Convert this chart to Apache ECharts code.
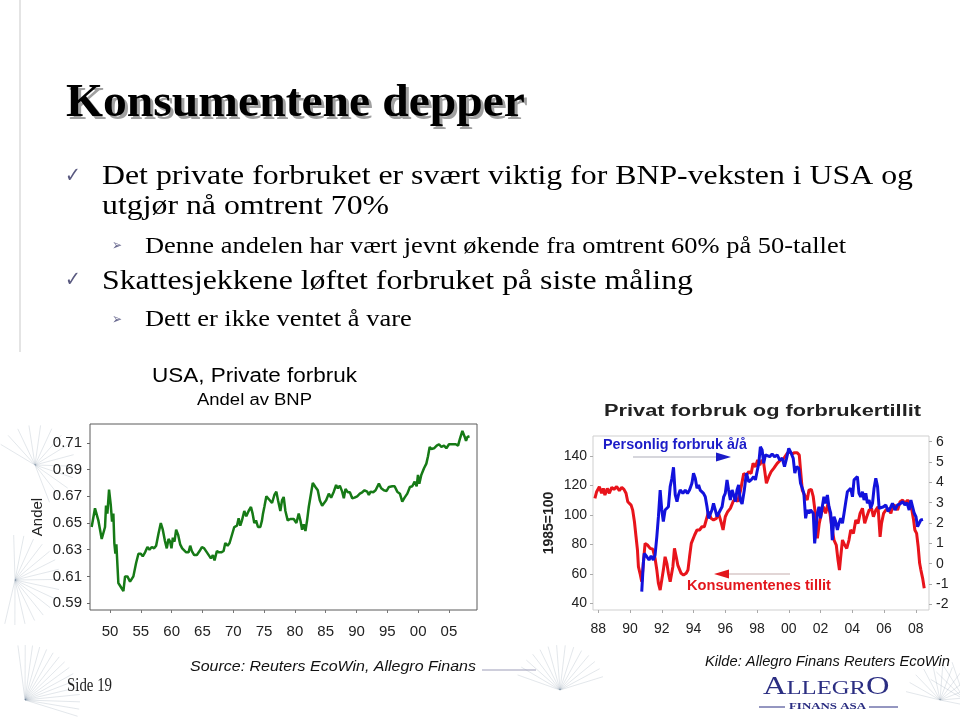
<!DOCTYPE html>
<html><head><meta charset="utf-8">
<script src="https://cdn.jsdelivr.net/npm/echarts@6/dist/echarts.min.js"></script>
<style>html,body{margin:0;padding:0;background:#fff}#c{width:960px;height:720px}</style>
</head><body><div id="c"></div>
<script>
// ---------- DATA ----------
const shareYears = [1947.02,1947.56,1948.10,1948.65,1949.19,1949.35,1949.57,1949.84,1950.11,1950.33,1950.54,1950.70,1950.87,1951.03,1951.35,1951.63,1951.90,1952.17,1952.44,1952.82,1953.25,1953.52,1953.79,1954.23,1954.61,1954.99,1955.31,1955.69,1956.07,1956.40,1956.78,1957.15,1957.48,1957.86,1958.24,1958.56,1958.89,1959.21,1959.49,1959.76,1959.97,1960.19,1960.46,1960.73,1961.06,1961.38,1961.71,1962.03,1962.36,1962.74,1963.01,1963.28,1963.66,1964.09,1964.53,1964.91,1965.28,1965.72,1965.99,1966.37,1966.69,1966.96,1967.34,1967.67,1968.05,1968.43,1968.70,1969.08,1969.40,1969.78,1970.16,1970.60,1970.87,1971.14,1971.41,1971.79,1972.11,1972.49,1972.87,1973.14,1973.41,1973.69,1974.01,1974.39,1974.66,1974.82,1975.04,1975.37,1975.75,1976.29,1976.67,1976.99,1977.26,1977.64,1977.91,1978.18,1978.46,1978.83,1979.27,1979.81,1980.24,1980.62,1980.89,1981.17,1981.44,1981.71,1981.98,1982.25,1982.52,1982.90,1983.33,1983.71,1984.04,1984.42,1984.69,1985.07,1985.50,1985.88,1986.31,1986.69,1986.97,1987.29,1987.67,1987.94,1988.21,1988.59,1988.92,1989.30,1989.67,1990.11,1990.54,1990.92,1991.30,1991.73,1992.00,1992.28,1992.71,1993.09,1993.63,1994.01,1994.44,1994.88,1995.26,1995.80,1996.18,1996.61,1997.04,1997.42,1997.80,1998.24,1998.67,1999.05,1999.43,1999.76,1999.97,2000.19,2000.51,2000.95,2001.33,2001.60,2001.87,2002.14,2002.57,2003.01,2003.39,2003.77,2004.20,2004.58,2005.01,2005.55,2006.10,2006.48,2006.80,2007.18,2007.56,2007.77,2008.00,2008.33];
const shareValues = [0.647,0.661,0.652,0.638,0.647,0.663,0.657,0.675,0.664,0.651,0.657,0.635,0.627,0.634,0.605,0.603,0.6035,0.599,0.610,0.610,0.606,0.606,0.610,0.620,0.627,0.627,0.625,0.628,0.632,0.630,0.632,0.631,0.633,0.642,0.650,0.645,0.637,0.631,0.638,0.636,0.631,0.639,0.636,0.645,0.641,0.634,0.631,0.632,0.628,0.628,0.633,0.629,0.626,0.626,0.629,0.632,0.631,0.628,0.627,0.6235,0.626,0.622,0.629,0.628,0.628,0.629,0.635,0.633,0.635,0.641,0.647,0.648,0.6535,0.648,0.652,0.659,0.655,0.659,0.662,0.657,0.650,0.652,0.647,0.647,0.652,0.657,0.662,0.670,0.668,0.665,0.671,0.6735,0.667,0.659,0.667,0.6695,0.659,0.652,0.653,0.653,0.650,0.657,0.652,0.645,0.649,0.644,0.652,0.662,0.662,0.680,0.677,0.6745,0.667,0.663,0.662,0.667,0.672,0.669,0.6735,0.6785,0.676,0.678,0.6735,0.6685,0.6755,0.673,0.673,0.6685,0.669,0.670,0.672,0.673,0.6745,0.6735,0.671,0.6735,0.673,0.6745,0.6795,0.676,0.6745,0.674,0.677,0.6775,0.6775,0.6735,0.672,0.666,0.669,0.672,0.677,0.6775,0.681,0.6775,0.686,0.6795,0.686,0.691,0.6945,0.700,0.707,0.7055,0.706,0.708,0.709,0.707,0.708,0.706,0.709,0.709,0.709,0.708,0.7135,0.719,0.7145,0.7115,0.7145,0.715];
const shareTicks = [0.59,0.61,0.63,0.65,0.67,0.69,0.71];
const shareYearTicks = [1950,1955,1960,1965,1970,1975,1980,1985,1990,1995,2000,2005];

const confYears = [1987.79,1987.9,1988.07,1988.21,1988.32,1988.42,1988.57,1988.7,1988.85,1988.99,1989.16,1989.33,1989.48,1989.62,1989.75,1989.86,1989.96,1990.07,1990.17,1990.28,1990.38,1990.47,1990.53,1990.63,1990.74,1990.84,1990.95,1991.1,1991.27,1991.44,1991.58,1991.69,1991.79,1991.9,1992.0,1992.1,1992.21,1992.32,1992.42,1992.53,1992.7,1992.8,1992.91,1993.01,1993.12,1993.22,1993.37,1993.54,1993.65,1993.75,1993.86,1993.96,1994.07,1994.22,1994.38,1994.53,1994.68,1994.8,1994.95,1995.1,1995.26,1995.44,1995.58,1995.73,1995.86,1996.0,1996.15,1996.32,1996.49,1996.64,1996.78,1996.95,1997.16,1997.33,1997.48,1997.63,1997.75,1997.9,1998.04,1998.17,1998.32,1998.42,1998.59,1998.74,1998.89,1999.05,1999.27,1999.48,1999.69,1999.9,2000.07,2000.22,2000.36,2000.53,2000.66,2000.74,2000.85,2000.99,2001.16,2001.27,2001.42,2001.54,2001.67,2001.8,2001.92,2002.05,2002.18,2002.32,2002.47,2002.59,2002.74,2002.85,2002.99,2003.1,2003.19,2003.27,2003.38,2003.52,2003.65,2003.79,2003.9,2004.07,2004.22,2004.36,2004.49,2004.64,2004.78,2004.91,2005.06,2005.21,2005.33,2005.48,2005.62,2005.75,2005.84,2005.97,2006.11,2006.26,2006.43,2006.53,2006.68,2006.85,2007.01,2007.17,2007.31,2007.48,2007.63,2007.75,2007.86,2007.94,2008.05,2008.15,2008.24,2008.32,2008.43,2008.53];
const confValues = [111.3,115.8,119.2,114.7,118,113.5,118,114.7,118.7,117.4,119.2,116.5,118.7,117.4,114.7,109,110.1,106.7,103.3,95.4,85.2,76.2,64.9,60.4,54.7,67.2,80.7,79.6,77.3,76.7,70.5,62.6,53.5,49,47.9,62.6,71.6,67.2,60.4,54.7,64.9,77.3,71.6,66,67.2,60.4,59.2,60.4,62.6,71.6,80.7,81.8,86.4,89.8,89.8,92,92,96.6,102.2,97.7,96.6,97.7,101.1,95.4,89.8,98.8,102.2,104.5,109,111.3,109,116,128.2,127.1,129.4,128.2,135,132.7,137.3,133.9,137.3,135,121.5,126,129.4,131.6,135,137.3,138.4,141.8,142.9,141.4,142.3,142.3,140.7,130.5,116.9,113.5,110.1,116.9,117.4,112.4,101.1,84.1,94.3,101.1,105.6,101.1,107.9,101.1,89.8,83,79.6,69.4,62.6,71.6,83,79.6,77.3,83,89.8,87.5,96.6,94.3,101.1,104.5,94.3,98.8,103.3,104.5,98.8,103.3,105.6,85.2,94.3,101.1,103.3,104.5,101.1,105.6,106.7,103.3,109,110.1,107.9,110.1,107.9,103.3,96.6,89.8,87.5,78.4,67.2,62.6,57,50.2];

const pceYears = [1990.74,1990.84,1990.9,1991.06,1991.2,1991.33,1991.47,1991.58,1991.69,1991.79,1991.9,1992.0,1992.1,1992.21,1992.32,1992.42,1992.53,1992.64,1992.74,1992.85,1992.96,1993.05,1993.16,1993.33,1993.48,1993.62,1993.75,1993.9,1994.0,1994.11,1994.22,1994.32,1994.42,1994.53,1994.63,1994.74,1994.85,1994.95,1995.06,1995.16,1995.26,1995.37,1995.48,1995.58,1995.69,1995.8,1995.9,1996.0,1996.11,1996.21,1996.32,1996.43,1996.53,1996.64,1996.74,1996.84,1996.95,1997.06,1997.2,1997.33,1997.48,1997.63,1997.79,1997.9,1998.0,1998.11,1998.21,1998.32,1998.42,1998.53,1998.64,1998.8,1998.95,1999.1,1999.27,1999.43,1999.59,1999.73,1999.86,2000.0,2000.15,2000.28,2000.38,2000.49,2000.63,2000.74,2000.85,2000.95,2001.06,2001.16,2001.27,2001.37,2001.54,2001.63,2001.71,2001.8,2001.9,2002.0,2002.11,2002.21,2002.32,2002.43,2002.53,2002.64,2002.74,2002.85,2002.95,2003.06,2003.16,2003.27,2003.38,2003.48,2003.59,2003.69,2003.79,2003.9,2004.01,2004.11,2004.22,2004.32,2004.42,2004.53,2004.64,2004.74,2004.85,2004.95,2005.06,2005.16,2005.27,2005.37,2005.48,2005.59,2005.69,2005.8,2005.97,2006.11,2006.26,2006.43,2006.53,2006.68,2006.85,2007.01,2007.17,2007.31,2007.44,2007.58,2007.69,2007.8,2007.9,2008.01,2008.11,2008.21,2008.32,2008.45];
const pceValues = [-1.38,0.02,0.51,0.34,0.18,0.38,0.18,0.43,1.33,2.31,3.62,2.64,2.07,2.64,2.72,2.8,3.79,4.2,4.74,3.38,3.05,3.38,3.62,3.46,3.62,3.46,3.62,3.95,4.45,4.2,3.71,3.87,3.62,3.71,3.46,3.29,2.8,2.23,2.15,2.64,2.97,2.64,2.31,2.23,2.64,2.8,3.29,3.46,4.12,3.62,3.13,3.62,3.38,3.05,3.62,3.87,3.1,2.94,3.62,4.45,4.03,4.12,4.28,4.12,4.52,4.94,5.75,5.59,4.94,5.35,5.4,5.26,5.4,5.26,5.35,5.1,5.18,4.77,5.18,5.67,5.43,5.18,4.45,4.77,4.69,3.95,3.71,3.46,2.23,2.64,2.48,2.64,2.48,1.0,1.66,2.48,2.8,2.23,2.8,3.29,2.97,3.38,2.8,2.48,1.16,2.31,2.07,1.66,1.99,2.23,1.99,2.48,3.05,3.54,3.46,3.71,3.29,4.12,4.2,4.28,3.46,3.29,3.54,3.13,3.46,2.97,3.13,2.72,2.97,3.71,4.2,3.79,2.72,2.64,2.8,2.89,2.56,2.8,2.97,2.64,2.89,2.94,3.05,2.89,3.0,2.64,3.13,3.05,2.48,2.31,1.82,1.74,2.15,2.18];
const leftTicks = [40,60,80,100,120,140];
const rightTicks = [-2,-1,0,1,2,3,4,5,6];
const rightYearTicks = [1988,1990,1992,1994,1996,1998,2000,2002,2004,2006,2008];

// ---------- helpers ----------
const SERIF = '"Liberation Serif","Times New Roman",serif';
const SANS = '"Liberation Sans",Arial,sans-serif';
const mctx = document.createElement('canvas').getContext('2d');
function natW(text, font){ mctx.font = font; return mctx.measureText(text).width; }
function txt(text, font, left, yMid, sx, fill, extra){
  return Object.assign({type:'text', x:left, y:yMid, scaleX:sx, z:20,
    style:{x:0, y:0, text:text, font:font, fill:fill, align:'left', verticalAlign:'middle'}}, extra||{});
}
function fit(text, font, left, yMid, width, fill, extra){
  return txt(text, font, left, yMid, width / natW(text, font), fill, extra);
}
const yy = v => String(Math.round(v) % 100).padStart(2,'0');

const fTitle = 'bold 47px ' + SERIF;
const fL1 = '28px ' + SERIF;
const fL2 = '23px ' + SERIF;
const s1 = 811 / natW('Det private forbruket er svært viktig for BNP-veksten i USA og', fL1);
const s2 = 701 / natW('Denne andelen har vært jevnt økende fra omtrent 60% på 50-tallet', fL2);

const g = [];
// left decorative vertical rule
g.push({type:'line', shape:{x1:20,y1:0,x2:20,y2:352}, style:{stroke:'#c9c9c9', lineWidth:1}, z:1});
// faint dandelion decorations
function seed(cx, cy, r, n, a0, a1){
  for (let i=0;i<n;i++){
    const a = a0 + (a1-a0)*i/(n-1);
    g.push({type:'line', shape:{x1:cx,y1:cy,x2:cx+r*Math.cos(a),y2:cy+r*Math.sin(a)}, style:{stroke:'rgba(90,115,140,0.22)', lineWidth:0.8}, z:0});
  }
}
seed(35, 465, 40, 14, -2.6, 1.2);
seed(15, 580, 45, 16, -1.6, 1.8);
seed(25, 700, 55, 16, -1.7, 0.3);
seed(560, 690, 45, 14, -2.8, -0.3);
seed(965, 700, 40, 10, -2.6, -0.5);
seed(940, 700, 35, 12, -2.9, 0.2);

// title with shadow
g.push(fit('Konsumentene depper', fTitle, 69, 107, 459, '#a0a0a0', {z:15}));
g.push(fit('Konsumentene depper', fTitle, 66, 104, 459, '#000'));
// bullets
g.push(txt('\u2713', '21px "DejaVu Sans"', 65, 177, 0.9, '#5a5a80'));
g.push(txt('\u2713', '21px "DejaVu Sans"', 65, 281, 0.9, '#5a5a80'));
g.push(txt('\u27A2', '15px "DejaVu Sans"', 112, 246, 0.8, '#6a6a90'));
g.push(txt('\u27A2', '15px "DejaVu Sans"', 112, 320, 0.8, '#6a6a90'));
g.push(txt('Det private forbruket er svært viktig for BNP-veksten i USA og', fL1, 102, 177, s1, '#000'));
g.push(txt('utgjør nå omtrent 70%', fL1, 102, 207, s1, '#000'));
g.push(txt('Denne andelen har vært jevnt økende fra omtrent 60% på 50-tallet', fL2, 145, 247, s2, '#000'));
g.push(txt('Skattesjekkene løftet forbruket på siste måling', fL1, 102, 282, s1, '#000'));
g.push(txt('Dett er ikke ventet å vare', fL2, 145, 320, s2, '#000'));

// chart titles
g.push(fit('USA, Private forbruk', '20px ' + SANS, 152, 376, 205, '#000'));
g.push(fit('Andel av BNP', '16px ' + SANS, 197, 401, 115, '#000'));
g.push(fit('Privat forbruk og forbrukertillit', 'bold 16px ' + SANS, 604, 412, 317, '#222'));

// annotations right chart
g.push(fit('Personlig forbruk å/å', 'bold 14px ' + SANS, 603, 445, 144, '#1c1cc8'));
g.push({type:'line', shape:{x1:633,y1:457,x2:718,y2:457}, style:{stroke:'#c8c8d0', lineWidth:1.5}, z:20});
g.push({type:'polygon', shape:{points:[[716,452.5],[731,457],[716,461.5]]}, style:{fill:'#1c1cc8'}, z:21});
g.push(fit('Konsumentenes tillit', 'bold 14px ' + SANS, 687, 586, 144, '#e3161c'));
g.push({type:'line', shape:{x1:727,y1:574,x2:790,y2:574}, style:{stroke:'#d8c8c8', lineWidth:1.5}, z:20});
g.push({type:'polygon', shape:{points:[[729,569.5],[714,574],[729,578.5]]}, style:{fill:'#e3161c'}, z:21});

// footer
g.push(fit('Side 19', '18px ' + SERIF, 67, 686, 45, '#222'));
g.push(fit('Source: Reuters EcoWin, Allegro Finans', 'italic 15px ' + SANS, 190, 667, 286, '#111'));
g.push({type:'line', shape:{x1:482,y1:670,x2:536,y2:670}, style:{stroke:'#9d9db8', lineWidth:1}, z:20});
g.push(fit('Kilde: Allegro Finans Reuters EcoWin', 'italic 14px ' + SANS, 705, 662, 245, '#111'));
g.push({type:'text', x:763, y:687, scaleX:1.3, z:20,
  style:{x:0, y:0, text:'{a|A}{b|LLEGR}{a|O}', align:'left', verticalAlign:'middle',
    rich:{a:{fontFamily:SERIF, fontSize:25, fill:'#2b2e82', color:'#2b2e82'},
          b:{fontFamily:SERIF, fontSize:19, fill:'#2b2e82', color:'#2b2e82', verticalAlign:'bottom', padding:[0,0,1,0]}}}});
g.push(fit('FINANS ASA', 'bold 8px ' + SERIF, 789, 707, 77, '#2b2e82'));
g.push({type:'line', shape:{x1:759,y1:707,x2:785,y2:707}, style:{stroke:'#2b2e82', lineWidth:1}, z:20});
g.push({type:'line', shape:{x1:869,y1:707,x2:898,y2:707}, style:{stroke:'#2b2e82', lineWidth:1}, z:20});

const chart = echarts.init(document.getElementById('c'), null, {renderer:'canvas'});
chart.setOption({
  animation:false,
  backgroundColor:'#ffffff',
  textStyle:{fontFamily:SANS},
  grid:[
    {left:90, top:424, width:387, height:186, show:true, borderColor:'#5a5a5a', borderWidth:1, backgroundColor:'transparent'},
    {left:593, top:436, width:336, height:174, show:true, borderColor:'#cfcfcf', borderWidth:1, backgroundColor:'transparent'}
  ],
  xAxis:[
    {type:'value', gridIndex:0, min:1946.75, max:2009.55, splitLine:{show:false},
     axisLine:{show:false, onZero:false},
     axisTick:{show:true, customValues:shareYearTicks, length:3, lineStyle:{color:'#777'}},
     axisLabel:{customValues:shareYearTicks, formatter:yy, fontSize:15, color:'#222', margin:14, fontFamily:SANS}},
    {type:'value', gridIndex:1, min:1987.67, max:2008.83, splitLine:{show:false},
     axisLine:{show:false, onZero:false},
     axisTick:{show:true, customValues:rightYearTicks, length:3, lineStyle:{color:'#aaa'}},
     axisLabel:{customValues:rightYearTicks, formatter:yy, fontSize:14, color:'#222', margin:12, fontFamily:SANS}}
  ],
  yAxis:[
    {type:'value', gridIndex:0, min:0.5848, max:0.7242, splitLine:{show:false},
     axisLine:{show:false, onZero:false},
     axisTick:{show:true, customValues:shareTicks, length:3, lineStyle:{color:'#666'}},
     axisLabel:{customValues:shareTicks, formatter:v=>v.toFixed(2), fontSize:15, color:'#222', margin:8, fontFamily:SANS},
     name:'Andel', nameLocation:'middle', nameRotate:90, nameGap:45,
     nameTextStyle:{fontSize:15, color:'#222', fontFamily:SANS}},
    {type:'value', gridIndex:1, position:'left', min:35.5, max:153.6, splitLine:{show:false},
     axisLine:{show:false, onZero:false},
     axisTick:{show:true, customValues:leftTicks, length:3, lineStyle:{color:'#aaa'}},
     axisLabel:{customValues:leftTicks, fontSize:14, color:'#222', margin:6, fontFamily:SANS},
     name:'1985=100', nameLocation:'middle', nameRotate:90, nameGap:37,
     nameTextStyle:{fontSize:14, fontWeight:'bold', color:'#222', fontFamily:SANS}},
    {type:'value', gridIndex:1, position:'right', min:-2.28, max:6.28, splitLine:{show:false},
     axisLine:{show:false, onZero:false},
     axisTick:{show:true, customValues:rightTicks, length:3, lineStyle:{color:'#aaa'}},
     axisLabel:{customValues:rightTicks, fontSize:14, color:'#222', margin:7, fontFamily:SANS}}
  ],
  series:[
    {type:'line', xAxisIndex:0, yAxisIndex:0, showSymbol:false, silent:true,
     data:shareYears.map((x,i)=>[x, shareValues[i]]),
     lineStyle:{color:'#167a16', width:2.5}},
    {type:'line', xAxisIndex:1, yAxisIndex:1, showSymbol:false, silent:true, z:3,
     data:confYears.map((x,i)=>[x, confValues[i]]),
     lineStyle:{color:'#e8141b', width:3}},
    {type:'line', xAxisIndex:1, yAxisIndex:2, showSymbol:false, silent:true, z:4,
     data:pceYears.map((x,i)=>[x, pceValues[i]]),
     lineStyle:{color:'#1212dc', width:3}}
  ],
  graphic:g
});
</script></body></html>
